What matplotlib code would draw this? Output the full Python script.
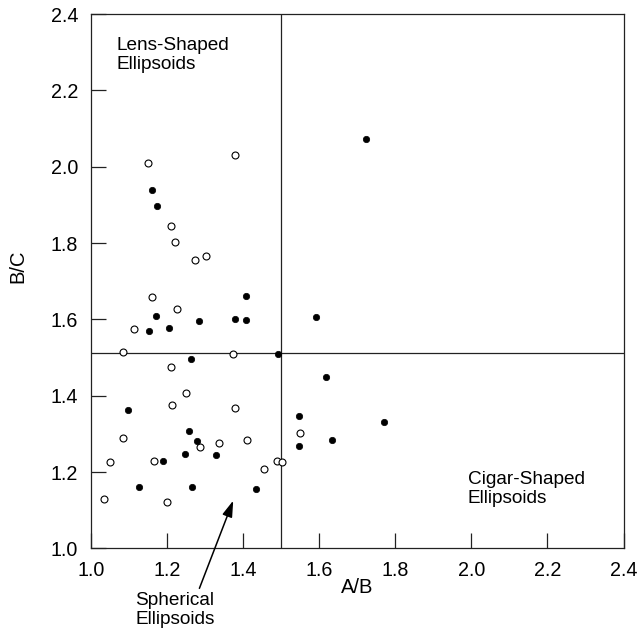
import matplotlib
matplotlib.use("Agg")
import matplotlib.pyplot as plt

plt.rcParams["font.family"] = ["Liberation Sans", "DejaVu Sans"]

# Axial ratios of the ellipsoids
open_ab = [1.150, 1.378, 1.209, 1.220, 1.272, 1.301, 1.158, 1.224, 1.113, 1.084,
           1.372, 1.209, 1.248, 1.213, 1.379, 1.084, 1.286, 1.336, 1.409, 1.049,
           1.164, 1.487, 1.502, 1.454, 1.549, 1.034, 1.198]
open_bc = [2.009, 2.031, 1.846, 1.804, 1.756, 1.766, 1.658, 1.626, 1.574, 1.515,
           1.508, 1.474, 1.406, 1.376, 1.368, 1.288, 1.265, 1.275, 1.284, 1.227,
           1.228, 1.229, 1.227, 1.209, 1.302, 1.130, 1.122]

filled_ab = [1.158, 1.172, 1.407, 1.170, 1.152, 1.204, 1.282, 1.379, 1.407, 1.590,
             1.262, 1.491, 1.618, 1.096, 1.547, 1.257, 1.277, 1.632, 1.546, 1.246,
             1.328, 1.189, 1.124, 1.265, 1.433, 1.771, 1.722]
filled_bc = [1.939, 1.897, 1.661, 1.609, 1.569, 1.577, 1.597, 1.600, 1.598, 1.605,
             1.496, 1.509, 1.449, 1.363, 1.347, 1.307, 1.282, 1.284, 1.269, 1.247,
             1.245, 1.229, 1.160, 1.161, 1.156, 1.330, 2.073]

ab_split = 1.5
bc_split = 1.513

xticks = [1.0, 1.2, 1.4, 1.6, 1.8, 2.0, 2.2, 2.4]
yticks = [1.0, 1.2, 1.4, 1.6, 1.8, 2.0, 2.2, 2.4]

fig = plt.figure(figsize=(6.41, 6.33), dpi=100)
ax = fig.add_axes([0.1427, 0.1338, 0.8300, 0.8438])

ax.set_xlim(1.0, 2.4)
ax.set_ylim(1.0, 2.4)

# Quadrant dividers
ax.axvline(ab_split, color="#222222", lw=0.9, zorder=1)
ax.axhline(bc_split, color="#222222", lw=0.9, zorder=1)

ax.plot(open_ab, open_bc, linestyle="none", marker="o", markersize=5.0,
        markerfacecolor="white", markeredgecolor="black", markeredgewidth=0.8, zorder=3)
ax.plot(filled_ab, filled_bc, linestyle="none", marker="o", markersize=4.6,
        markerfacecolor="black", markeredgecolor="black", markeredgewidth=0.5, zorder=3)

ax.set_xticks(xticks)
ax.set_yticks(yticks)
ax.set_xticklabels([f"{v:.1f}" for v in xticks])
ax.set_yticklabels([f"{v:.1f}" for v in yticks])
ax.tick_params(direction="in", length=11, width=0.9, labelsize=14.2,
               top=False, right=False, colors="#222222", labelcolor="black")
ax.tick_params(axis="x", pad=9.5)
ax.tick_params(axis="y", pad=9.5)

for s in ax.spines.values():
    s.set_color("#222222")
    s.set_linewidth(0.9)

ax.set_xlabel("A/B", fontsize=14.5)
ax.xaxis.set_label_coords(0.5, -0.056)
ax.set_ylabel("B/C", fontsize=14.5)
ax.yaxis.set_label_coords(-0.121, 0.528)

ax.text(1.066, 2.339, "Lens-Shaped\nEllipsoids", fontsize=13.7, va="top", ha="left",
        linespacing=1.15)
ax.text(1.99, 1.202, "Cigar-Shaped\nEllipsoids", fontsize=13.7, va="top", ha="left",
        linespacing=1.15)
ax.text(1.115, 0.886, "Spherical\nEllipsoids", fontsize=13.7, va="top", ha="left",
        linespacing=1.15, clip_on=False)

ax.annotate("", xy=(1.373, 1.125), xytext=(1.284, 0.895), annotation_clip=False,
            arrowprops=dict(arrowstyle="-|>,head_length=0.7,head_width=0.22",
                            color="black", lw=1.1, shrinkA=0, shrinkB=0,
                            mutation_scale=14))

fig.savefig("out.png", dpi=100)
